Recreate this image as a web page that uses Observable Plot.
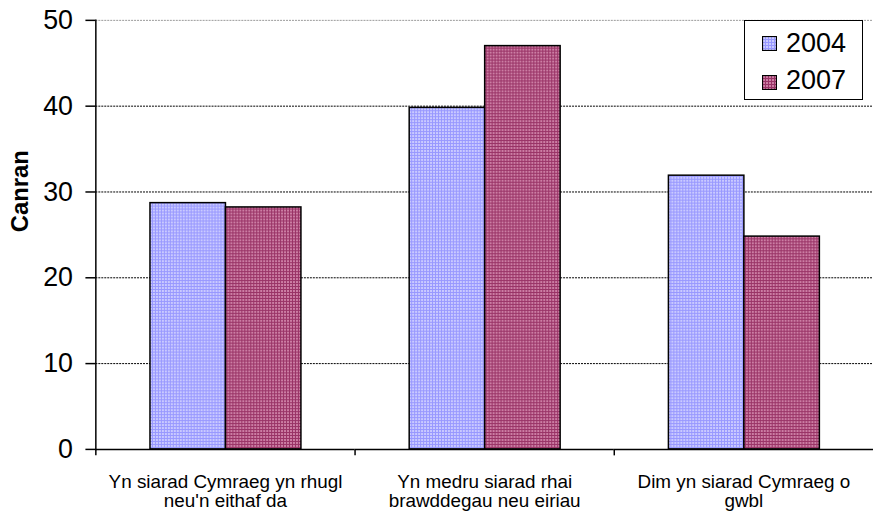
<!DOCTYPE html>
<html>
<head>
<meta charset="utf-8">
<script src="https://cdn.jsdelivr.net/npm/d3@7"></script>
<script src="https://cdn.jsdelivr.net/npm/@observablehq/plot@0.6"></script>
<style>
  html, body { margin: 0; padding: 0; background: white; overflow: hidden; }
  #wrap { position: relative; width: 873px; height: 512px; overflow: hidden; font-family: "Liberation Sans", Arial, sans-serif; }
  #legend { position: absolute; left: 744px; top: 20px; width: 119px; height: 80px; box-sizing: border-box;
            border: 1.5px solid black; background: white; font-size: 27px; line-height: 27px; }
  #legend .sw { position: absolute; left: 17px; width: 15px; height: 15px; }
  #legend .lb { position: absolute; left: 41px; }
</style>
</head>
<body>
<div id="wrap"></div>
<script>
const categories = [
  "Yn siarad Cymraeg yn rhugl neu'n eithaf da",
  "Yn medru siarad rhai brawddegau neu eiriau",
  "Dim yn siarad Cymraeg o gwbl"
];
const tickLabels = [
  "Yn siarad Cymraeg yn rhugl\nneu'n eithaf da",
  "Yn medru siarad rhai\nbrawddegau neu eiriau",
  "Dim yn siarad Cymraeg o\ngwbl"
];
const years = ["2004", "2007"];
const values2004 = [28.7, 39.8, 31.9];
const values2007 = [28.2, 47.0, 24.8];
const yTicks = [0, 10, 20, 30, 40, 50];
const yLabel = "Canran";

const rows = [];
categories.forEach((c, i) => {
  rows.push({cat: c, year: years[0], value: values2004[i]});
  rows.push({cat: c, year: years[1], value: values2007[i]});
});

const tickSymbol = { draw(ctx, size) { ctx.moveTo(0, 0); ctx.lineTo(0, 6); } };

const chart = Plot.plot({
  width: 879,
  height: 512,
  marginLeft: 96,
  marginRight: 0,
  marginTop: 20,
  marginBottom: 60,
  style: {fontFamily: "'Liberation Sans', Arial, sans-serif", background: "white", color: "black", overflow: "visible"},
  fx: {domain: categories, padding: 0, label: null},
  x: {domain: years, paddingInner: 0, paddingOuter: 0.717, axis: null},
  y: {domain: [0, 50], label: null},
  color: {domain: years, range: ["url(#pat2004)", "url(#pat2007)"]},
  marks: [
    Plot.gridY(yTicks.filter(t => t > 0 && t < 50), {stroke: "black", strokeOpacity: 1, strokeDasharray: "2,1"}),
    Plot.gridY([50], {stroke: "#999", strokeOpacity: 1, strokeDasharray: "2,1"}),
    Plot.barY(rows, {fx: "cat", x: "year", y: "value", fill: "year", stroke: "black", strokeWidth: 1.5}),
    Plot.ruleY([0], {stroke: "black", strokeWidth: 1.5}),
    Plot.frame({anchor: "left", facetAnchor: "left", stroke: "black", strokeWidth: 1.5}),
    Plot.axisY({ticks: yTicks, tickSize: 10, tickPadding: 13, fontSize: 27, label: null, strokeWidth: 1.5}),
    Plot.axisFx({anchor: "bottom", tickSize: 0, tickPadding: 25, fontSize: 19, lineHeight: 1.02, label: null,
                 tickFormat: d => tickLabels[categories.indexOf(d)]}),
    Plot.dot([0], {frameAnchor: "bottom-left", symbol: tickSymbol, stroke: "black", strokeWidth: 1.5, fill: "none"}),
    Plot.text([{cat: categories[0], label: yLabel}], {fx: "cat", text: "label", frameAnchor: "left", textAnchor: "middle",
               rotate: -90, dx: -76, dy: -44, fontSize: 24, fontWeight: "bold"})
  ]
});

// patterns
const defs = d3.select(chart).insert("defs", ":first-child");
function addPattern(id, base, light) {
  const p = defs.append("pattern").attr("id", id).attr("patternUnits", "userSpaceOnUse")
    .attr("width", 3).attr("height", 3);
  p.append("rect").attr("width", 3).attr("height", 3).attr("fill", base);
  p.append("rect").attr("x", 1).attr("y", 1).attr("width", 2).attr("height", 2).attr("fill", light);
}
addPattern("pat2004", "#9898ff", "#cacaff");
addPattern("pat2007", "#993366", "#cc7ea4");

const wrap = document.getElementById("wrap");
wrap.appendChild(chart);

// legend
const legend = document.createElement("div");
legend.id = "legend";
const swTops = [14.5, 53.5];
const lbTops = [9, 46];
years.forEach((y, i) => {
  const sw = document.createElementNS("http://www.w3.org/2000/svg", "svg");
  sw.setAttribute("class", "sw");
  sw.style.top = swTops[i] + "px";
  sw.setAttribute("width", 15); sw.setAttribute("height", 15);
  sw.innerHTML = `<rect x="0.5" y="0.5" width="14" height="14" fill="url(#pat${y})" stroke="black" stroke-width="1.2"></rect>`;
  legend.appendChild(sw);
  const lb = document.createElement("div");
  lb.className = "lb";
  lb.style.top = lbTops[i] + "px";
  lb.textContent = y;
  legend.appendChild(lb);
});
wrap.appendChild(legend);
</script>
</body>
</html>
